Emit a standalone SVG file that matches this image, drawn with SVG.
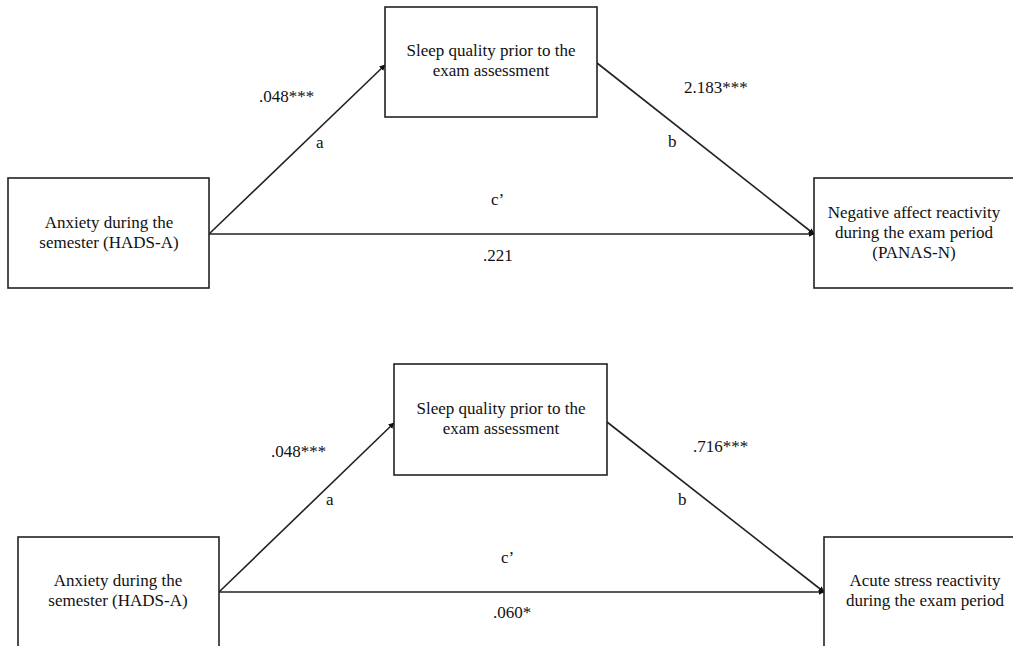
<svg xmlns="http://www.w3.org/2000/svg" width="1013" height="646" viewBox="0 0 1013 646">
<style>
.box{fill:#fff;stroke:#222;stroke-width:1.6}
.t{font-family:"Liberation Serif","Times New Roman",serif;font-size:17px;fill:#111;text-anchor:middle}
.l{font-family:"Liberation Serif","Times New Roman",serif;font-size:17px;fill:#111}
.c{stroke:#222;stroke-width:1.6;fill:none;marker-end:url(#ah)}
</style>
<defs>
<marker id="ah" viewBox="0 0 10 10" refX="9" refY="5" markerWidth="6" markerHeight="6" markerUnits="userSpaceOnUse" orient="auto">
<path d="M0,0 L10,5 L0,10 z" fill="#111"/>
</marker>
</defs>
<rect width="1013" height="646" fill="#fff"/>
<g id="connectors">
<line class="c" x1="209" y1="234" x2="385" y2="65"/>
<line class="c" x1="597" y1="63" x2="814" y2="234"/>
<line class="c" x1="209" y1="234" x2="814" y2="234"/>
<line class="c" x1="219" y1="592" x2="394" y2="423"/>
<line class="c" x1="607" y1="422" x2="824" y2="592"/>
<line class="c" x1="219" y1="592" x2="824" y2="592"/>
</g>
<g id="labels">
<text class="l" x="259" y="102">.048***</text>
<text class="l" x="316" y="148">a</text>
<text class="l" x="491" y="205">c’</text>
<text class="l" x="483" y="261">.221</text>
<text class="l" x="684" y="93">2.183***</text>
<text class="l" x="668" y="147">b</text>
<text class="l" x="271" y="457">.048***</text>
<text class="l" x="326" y="505">a</text>
<text class="l" x="501" y="563">c’</text>
<text class="l" x="493" y="618">.060*</text>
<text class="l" x="693" y="452">.716***</text>
<text class="l" x="678" y="505">b</text>
</g>
<g id="n1">
<rect class="box" x="8" y="178" width="201" height="110"/>
<text class="t" x="109" y="228">Anxiety during the</text>
<text class="t" x="109" y="248">semester (HADS-A)</text>
</g>
<g id="n2">
<rect class="box" x="385" y="7" width="212" height="110"/>
<text class="t" x="491" y="56">Sleep quality prior to the</text>
<text class="t" x="491" y="76">exam assessment</text>
</g>
<g id="n3">
<rect class="box" x="814" y="178" width="210" height="110"/>
<text class="t" x="914" y="218">Negative affect reactivity</text>
<text class="t" x="914" y="238">during the exam period</text>
<text class="t" x="914" y="258">(PANAS-N)</text>
</g>
<g id="n4">
<rect class="box" x="18" y="537" width="201" height="120"/>
<text class="t" x="118" y="586">Anxiety during the</text>
<text class="t" x="118" y="606">semester (HADS-A)</text>
</g>
<g id="n5">
<rect class="box" x="394" y="364" width="213" height="111"/>
<text class="t" x="501" y="414">Sleep quality prior to the</text>
<text class="t" x="501" y="434">exam assessment</text>
</g>
<g id="n6">
<rect class="box" x="824" y="537" width="200" height="120"/>
<text class="t" x="925" y="586">Acute stress reactivity</text>
<text class="t" x="925" y="606">during the exam period</text>
</g>
</svg>
